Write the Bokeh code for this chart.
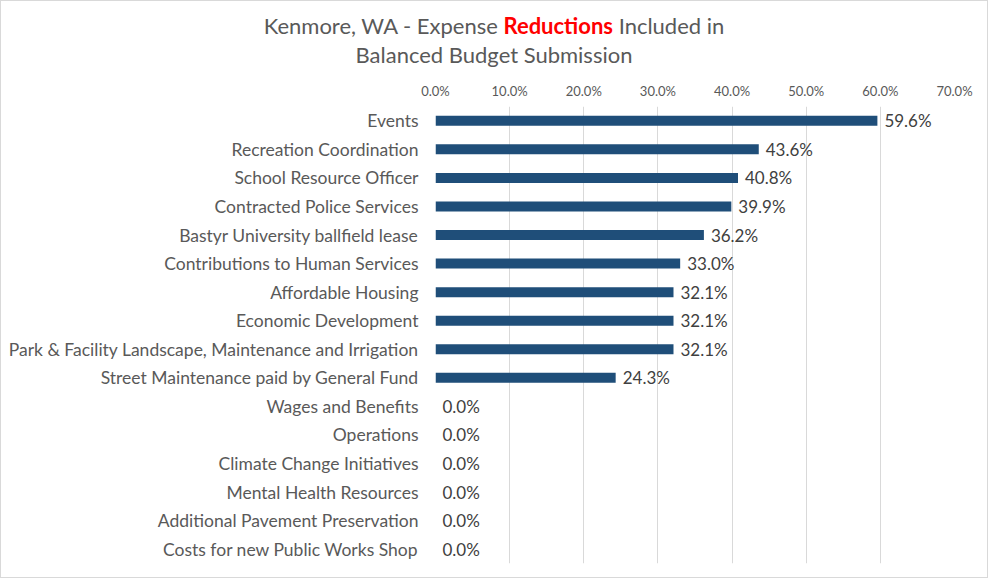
from bokeh.plotting import figure
from bokeh.layouts import column
from bokeh.models import (ColumnDataSource, FactorRange, Range1d, LinearAxis, FixedTicker,
                          NumeralTickFormatter, LabelSet, Div)
from bokeh.core.properties import value
from bokeh.embed import file_html
from bokeh.resources import INLINE

categories = [
    "Events",
    "Recreation Coordination",
    "School Resource Officer",
    "Contracted Police Services",
    "Bastyr University ballfield lease",
    "Contributions to Human Services",
    "Affordable Housing",
    "Economic Development",
    "Park & Facility Landscape, Maintenance and Irrigation",
    "Street Maintenance paid by General Fund",
    "Wages and Benefits",
    "Operations",
    "Climate Change Initiatives",
    "Mental Health Resources",
    "Additional Pavement Preservation",
    "Costs for new Public Works Shop",
]
reductions = [0.596, 0.436, 0.408, 0.399, 0.362, 0.330, 0.321, 0.321, 0.321, 0.243,
              0.0, 0.0, 0.0, 0.0, 0.0, 0.0]
x_ticks = [0.0, 0.1, 0.2, 0.3, 0.4, 0.5, 0.6, 0.7]
title_parts = ["Kenmore, WA - Expense", "Reductions", "Included in"]
title_line2 = "Balanced Budget Submission"

FONT = "Lato"
GRAY = "#595959"
BAR = "#1F4E79"
W = 986
TH = 70
MH = 506

# ---- title (HTML so that the red word sits inline) ----
title_html = (
    '<div style="width:%dpx;height:%dpx;box-sizing:border-box;padding-top:10px;'
    'text-align:center;font-family:Lato;font-size:22px;line-height:29px;color:%s;'
    'white-space:nowrap;">%s <span style="color:#FF0000;font-weight:bold;">%s</span> %s'
    '<br>%s</div>'
) % (W, TH, GRAY, title_parts[0], title_parts[1], title_parts[2], title_line2)
t = Div(text=title_html, width=W, height=TH, margin=(0, 0, 0, 0))

# ---- main bar chart ----
labels = ["%.1f%%" % (v * 100) for v in reductions]
src = ColumnDataSource(dict(cat=categories, val=reductions, lab=labels))

p = figure(width=W, height=MH, output_backend="svg", toolbar_location=None,
           y_range=FactorRange(factors=list(reversed(categories))),
           x_range=Range1d(0, 0.7), x_axis_location=None,
           min_border_left=434, min_border_right=W - 953, min_border_top=105 - TH,
           min_border_bottom=TH + MH - 562)
p.outline_line_color = None

p.hbar(y="cat", right="val", left=0, height=0.35, fill_color=BAR, line_color=None,
       source=src)

xaxis = LinearAxis(ticker=FixedTicker(ticks=x_ticks),
                   formatter=NumeralTickFormatter(format="0.0%"))
xaxis.axis_line_color = None
xaxis.major_tick_line_color = None
xaxis.minor_tick_line_color = None
xaxis.major_label_standoff = 2
xaxis.major_label_text_font = FONT
xaxis.major_label_text_font_size = "13px"
xaxis.major_label_text_color = GRAY
p.add_layout(xaxis, "above")

p.xgrid.ticker = FixedTicker(ticks=x_ticks)
p.xgrid.grid_line_color = "#D9D9D9"
p.ygrid.grid_line_color = None

yaxis = p.yaxis[0]
yaxis.axis_line_color = None
yaxis.major_tick_line_color = None
yaxis.minor_tick_line_color = None
yaxis.major_label_standoff = 11
yaxis.major_label_text_font = FONT
yaxis.major_label_text_font_size = "17.5px"
yaxis.major_label_text_color = GRAY

vl = LabelSet(x="val", y="cat", text="lab", source=src, x_offset=7,
              text_baseline="middle", text_align="left",
              text_font=value(FONT), text_font_size="17px", text_color="#404040")
p.add_layout(vl)

layout = column(t, p, spacing=0)
layout.styles = {"border": "1px solid #D9D9D9"}

open("out.html", "w").write(file_html(layout, INLINE))
